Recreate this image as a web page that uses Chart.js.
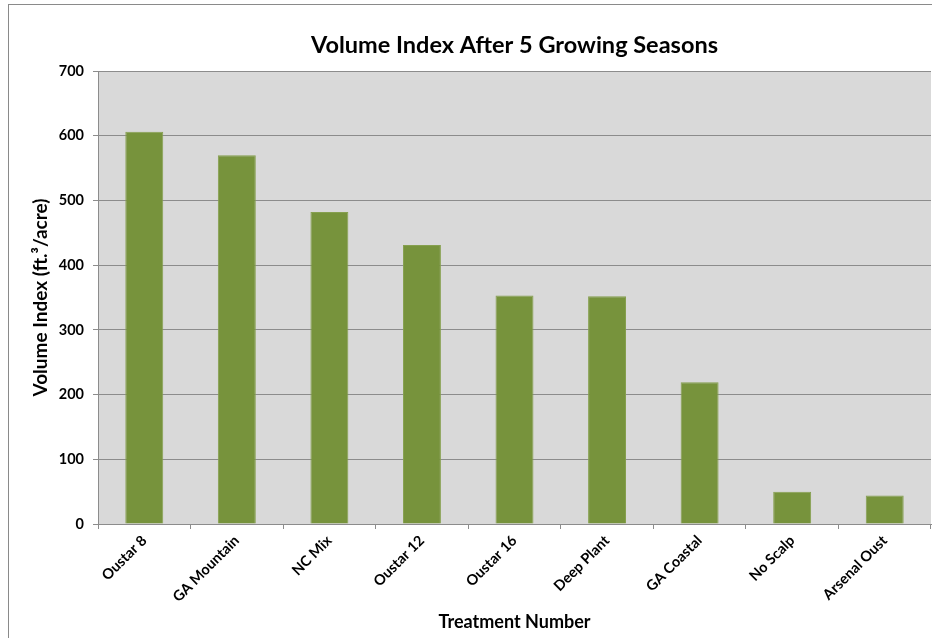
<!DOCTYPE html>
<html>
<head>
<meta charset="utf-8">
<script src="https://cdn.jsdelivr.net/npm/chart.js@4/dist/chart.umd.min.js"></script>
<style>
  html, body { margin: 0; padding: 0; background: #fff; overflow: hidden; }
  #frame {
    position: absolute; left: 8px; top: 4px;
    width: 940px; height: 650px;
    border: 1px solid #8a8a8a;
  }
</style>
</head>
<body>
<div id="frame"><canvas id="myChart"></canvas></div>
<script>
const treatments = ["Oustar 8", "GA Mountain", "NC Mix", "Oustar 12", "Oustar 16",
  "Deep Plant", "GA Coastal", "No Scalp", "Arsenal Oust"];
const volumeIndex = [606, 570, 482, 431, 353, 352, 219, 50, 44];
const yTicks = [0, 100, 200, 300, 400, 500, 600, 700];

const chartTitle = "Volume Index After 5 Growing Seasons";
const fontFamily = "Lato, 'Open Sans', sans-serif";

// grey plot area + chart title centred over the plot
const plotBackground = {
  id: "plotBackground",
  beforeDraw: (chart) => {
    const { ctx, chartArea } = chart;
    ctx.save();
    ctx.fillStyle = "#d9d9d9";
    ctx.fillRect(chartArea.left, chartArea.top, chartArea.right - chartArea.left, chartArea.bottom - chartArea.top);
    ctx.restore();
  },
  afterDraw: (chart) => {
    const { ctx, chartArea } = chart;
    ctx.save();
    ctx.fillStyle = "#000";
    ctx.font = "bold 23.5px " + fontFamily;
    ctx.textAlign = "center";
    ctx.textBaseline = "middle";
    ctx.fillText(chartTitle, (chartArea.left + chartArea.right) / 2, 40);
    ctx.restore();
  },
};

const ctx = document.getElementById("myChart").getContext("2d");
const chart = new Chart(ctx, {
  type: "bar",
  data: {
    labels: treatments,
    datasets: [
      {
        label: "Volume Index",
        data: volumeIndex,
        backgroundColor: "#77933c",
        borderColor: "#86a04f",
        borderWidth: 1,
        categoryPercentage: 1,
        barPercentage: 0.41,
      },
    ],
  },
  options: {
    responsive: true,
    maintainAspectRatio: false,
    animation: false,
    layout: { padding: { top: 66, right: 18, bottom: 0, left: 0 } },
    plugins: {
      legend: { display: false },
      tooltip: { enabled: false },
    },
    scales: {
      x: {
        grid: {
          offset: true,
          drawOnChartArea: false,
          color: "#8c8c8c",
          tickLength: 5,
        },
        border: { color: "#8c8c8c", width: 1 },
        ticks: {
          color: "#000",
          font: { family: fontFamily, weight: "bold", size: 14.5 },
          minRotation: 45,
          maxRotation: 45,
          autoSkip: false,
          padding: 3,
        },
        title: {
          display: true,
          text: "Treatment Number",
          color: "#000",
          font: { family: fontFamily, weight: "bold", size: 18 },
          padding: { top: 0, bottom: 22 },
        },
        afterFit: (scale) => { scale.height = 131; },
      },
      y: {
        min: 0,
        max: 700,
        afterBuildTicks: (scale) => {
          scale.ticks = yTicks.map((v) => ({ value: v }));
        },
        grid: { color: "#8c8c8c", tickLength: 5, lineWidth: 1 },
        border: { color: "#8c8c8c", width: 1 },
        ticks: {
          color: "#000",
          font: { family: fontFamily, weight: "bold", size: 14.5 },
          padding: 9,
        },
        title: {
          display: true,
          text: "Volume Index (ft.³/acre)",
          color: "#000",
          font: { family: fontFamily, weight: "bold", size: 19 },
          padding: { top: 20, bottom: 0 },
        },
        afterFit: (scale) => { scale.width = 89; },
      },
    },
  },
  plugins: [plotBackground],
});
</script>
</body>
</html>
